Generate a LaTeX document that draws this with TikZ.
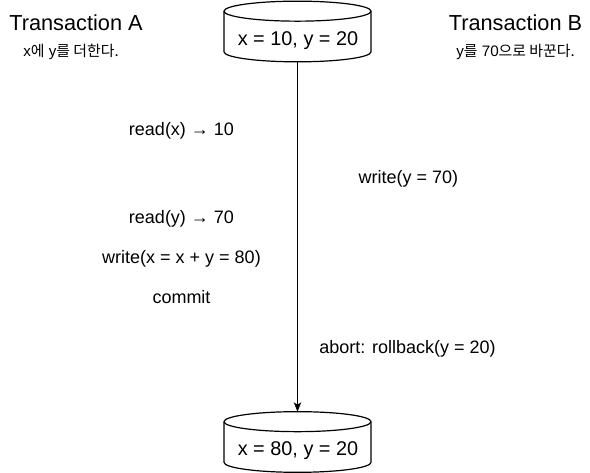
\documentclass[tikz,border=0pt]{standalone}
\usepackage{fontspec}
\usetikzlibrary{arrows.meta}
\setmainfont{Liberation Sans}
\newfontfamily\krfont{Noto Sans CJK KR}[Scale=0.98]
\newcommand{\kr}[1]{{\krfont #1}}
\newcommand{\dbshape}[1]{%
  \draw[dbline] ([yshift=-7.5pt]#1.north west) arc[start angle=180,end angle=0,x radius=55.125pt,y radius=7.5pt]
    -- ([yshift=7.5pt]#1.south east) arc[start angle=0,end angle=-180,x radius=55.125pt,y radius=7.5pt] -- cycle;
  \draw[dbline] ([yshift=-7.5pt]#1.north west) arc[start angle=180,end angle=360,x radius=55.125pt,y radius=7.5pt];}
\tikzset{
  dbstore/.style={rectangle,minimum width=110.25pt,minimum height=45.5pt,inner sep=0pt,outer sep=0pt},
  dbline/.style={draw=black,line width=0.9pt,line join=round},
  dbtext/.style={inner sep=0pt,font=\fontsize{14.9pt}{18pt}\selectfont},
  opstep/.style={inner sep=0pt,font=\fontsize{13.5pt}{16pt}\selectfont},
  title/.style={inner sep=0pt,font=\fontsize{16.3pt}{19pt}\selectfont},
  note/.style={inner sep=0pt,font=\fontsize{11.4pt}{13pt}\selectfont},
  flow/.style={draw=black,line width=0.75pt,-{Stealth[length=7pt,width=5.6pt,inset=1.8pt]}},
}
\begin{document}
\begin{tikzpicture}[x=0.75pt,y=-0.75pt]
\useasboundingbox (0,0) rectangle (590,473);
\node[dbstore] (top) at (297.5,31.5) {};
\node[dbstore] (bot) at (297.5,442) {};
\dbshape{top}
\dbshape{bot}
\node[dbtext] (toptext) at (298,40.5) {x = 10, y = 20};
\node[dbtext] (bottext) at (298,451) {x = 80, y = 20};
\node[title] (ta) at (76,23) {Transaction A};
\node[note] (na) at (71,52) {x\kr{에} y\kr{를 더한다.}};
\node[title] (tb) at (515.5,23) {Transaction B};
\node[note] (nb) at (515.5,52) {y\kr{를} 70\kr{으로 바꾼다.}};
\node[opstep] (s1) at (181.5,131) {read(x) → 10};
\node[opstep] (s2) at (408.5,179) {write(y = 70)};
\node[opstep] (s3) at (181.5,219) {read(y) → 70};
\node[opstep] (s4) at (181.5,259) {write(x = x + y = 80)};
\node[opstep] (s5) at (181.5,297.5) {commit};
\node[opstep] (s6) at (407.5,349) {abort: rollback(y = 20)};
\draw[flow] (top.south) -- (bot.north);
\end{tikzpicture}
\end{document}
